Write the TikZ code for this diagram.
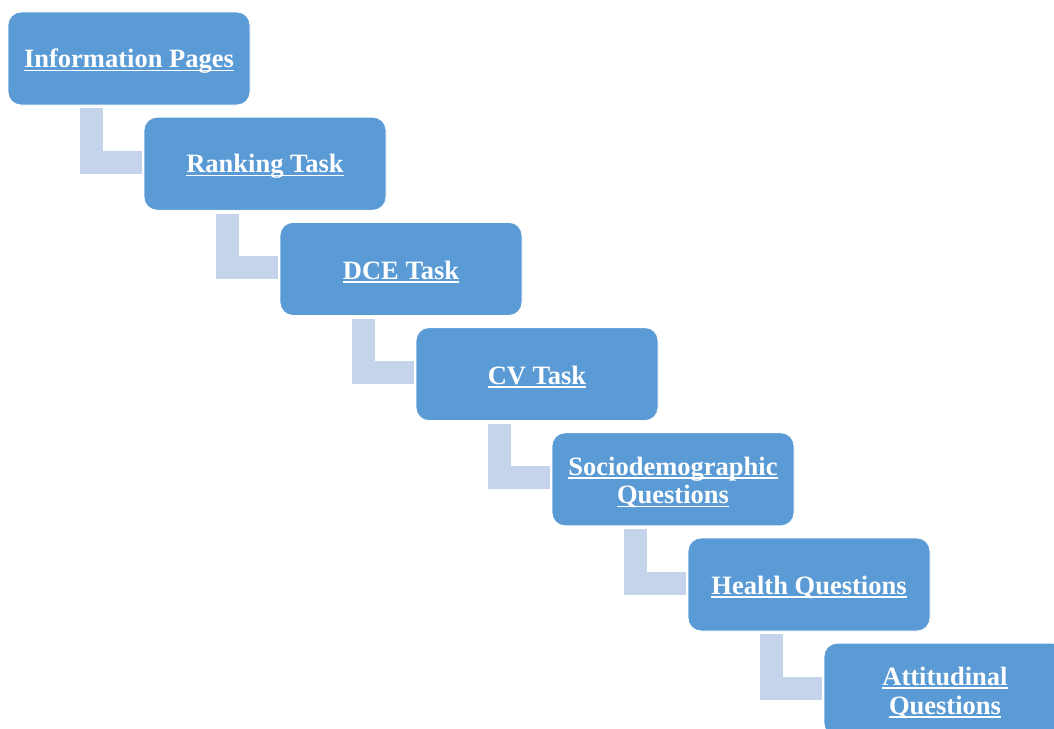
\documentclass[tikz,border=0pt]{standalone}
\usepackage{fontspec}
\setmainfont{Liberation Serif}
\usetikzlibrary{calc}
\definecolor{boxblue}{HTML}{5B9BD5}
\definecolor{connblue}{HTML}{C5D4EA}
\newcommand\myul[1]{\leavevmode\setbox0\hbox{#1}\rlap{\rule[-3.5pt]{\wd0}{1.6pt}}\box0}
\begin{document}
\begin{tikzpicture}[x=1pt,y=1pt,
  stepbox/.style={rectangle, rounded corners=13pt, minimum width=242pt, minimum height=93pt,
    fill=boxblue, draw=white, line width=0.8pt, inner sep=0pt},
  steptext/.style={text=white, align=center, inner sep=0pt,
    font=\bfseries\fontsize{26.5}{28.5}\selectfont},
  conn/.style={draw=connblue, line width=23pt}]
\useasboundingbox (0,0) rectangle (1054,-728);
\node[stepbox] (b1) at (129,-58.5) {};
\node[stepbox] (b2) at (265,-163.7) {};
\node[stepbox] (b3) at (401,-268.9) {};
\node[stepbox] (b4) at (537,-374.1) {};
\node[stepbox] (b5) at (673,-479.3) {};
\node[stepbox] (b6) at (809,-584.5) {};
\node[stepbox] (b7) at (945,-689.7) {};
\node[steptext] (t1) at ($(b1.center)+(0,-3)$) {\myul{Information Pages}};
\node[steptext] (t2) at ($(b2.center)+(0,-3)$) {\myul{Ranking Task}};
\node[steptext] (t3) at ($(b3.center)+(0,-3)$) {\myul{DCE Task}};
\node[steptext] (t4) at ($(b4.center)+(0,-3)$) {\myul{CV Task}};
\node[steptext] (t5) at ($(b5.center)+(0,-3)$) {\myul{Sociodemographic}\\\myul{Questions}};
\node[steptext] (t6) at ($(b6.center)+(0,-3)$) {\myul{Health Questions}};
\node[steptext] (t7) at ($(b7.center)+(0,-3)$) {\myul{Attitudinal}\\\myul{Questions}};
\draw[conn] ($(b1.south west)+(83.5,-3)$) |- ($(b2.west)+(-2,1.5)$);
\draw[conn] ($(b2.south west)+(83.5,-3)$) |- ($(b3.west)+(-2,1.5)$);
\draw[conn] ($(b3.south west)+(83.5,-3)$) |- ($(b4.west)+(-2,1.5)$);
\draw[conn] ($(b4.south west)+(83.5,-3)$) |- ($(b5.west)+(-2,1.5)$);
\draw[conn] ($(b5.south west)+(83.5,-3)$) |- ($(b6.west)+(-2,1.5)$);
\draw[conn] ($(b6.south west)+(83.5,-3)$) |- ($(b7.west)+(-2,1.5)$);
\end{tikzpicture}
\end{document}
